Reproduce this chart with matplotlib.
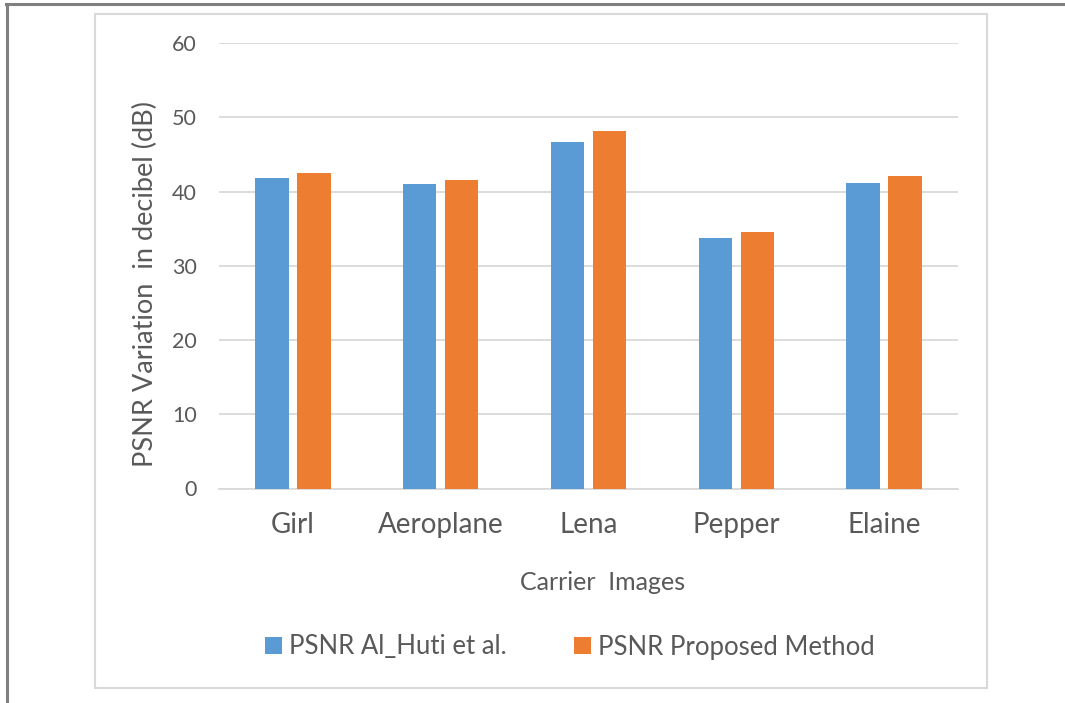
import matplotlib
matplotlib.use("Agg")
import matplotlib.pyplot as plt
import numpy as np
from matplotlib.patches import Rectangle
from matplotlib.lines import Line2D

categories = ["Girl", "Aeroplane", "Lena", "Pepper", "Elaine"]
psnr_alhuti = [41.8, 41.0, 46.6, 33.8, 41.1]
psnr_proposed = [42.5, 41.5, 48.2, 34.5, 42.1]
series_names = ["PSNR Al_Huti et al.", "PSNR Proposed Method"]
yticks = [0, 10, 20, 30, 40, 50, 60]

plt.rcParams['font.family'] = ['Lato', 'DejaVu Sans']

W, H = 1065, 703
fig = plt.figure(figsize=(W / 100, H / 100), dpi=100)

def fx(px):
    return px / W

def fy(py):
    return 1 - py / H

# outer frame (top and left)
fig.add_artist(Line2D([fx(6), 1], [fy(3.5), fy(3.5)], color="#7f7f7f", lw=2.2, transform=fig.transFigure))
fig.add_artist(Line2D([fx(6.5), fx(6.5)], [fy(3.5), 0], color="#7f7f7f", lw=2.2, transform=fig.transFigure))
# inner chart border
fig.add_artist(Rectangle((fx(95), fy(688)), fx(987) - fx(95), fy(14) - fy(688),
                         fill=False, edgecolor="#d9d9d9", lw=1.5, transform=fig.transFigure))

left, right, top, bottom = 219, 958, 43, 488.5
ax = fig.add_axes([fx(left), fy(bottom), fx(right) - fx(left), fy(top) - fy(bottom)])

x = np.arange(len(categories))
bw = 0.225
off = 0.142
blue = "#5b9bd5"
orange = "#ed7d31"
ax.bar(x - off, psnr_alhuti, width=bw, color=blue, label=series_names[0], zorder=3)
ax.bar(x + off, psnr_proposed, width=bw, color=orange, label=series_names[1], zorder=3)

ax.set_xlim(-0.5, len(categories) - 0.5)
ax.set_ylim(0, 60)
ax.set_yticks(yticks)
ax.yaxis.grid(True, color="#d9d9d9", lw=1.3, zorder=0)
for s in ["top", "right", "left"]:
    ax.spines[s].set_visible(False)
ax.spines["bottom"].set_color("#d9d9d9")
ax.spines["bottom"].set_linewidth(1.3)
ax.tick_params(axis="both", length=0, colors="#595959")
ax.tick_params(axis="y", labelsize=15.5, pad=16)
ax.set_xticks(x)
ax.set_xticklabels(categories, fontsize=20, color="#595959")
ax.tick_params(axis="x", pad=17)

fig.text(fx(145), fy(284), "PSNR Variation  in decibel (dB)", rotation=90, ha="center", va="center",
         fontsize=19.5, color="#595959")
fig.text(fx(603), fy(582), "Carrier  Images", ha="center", va="center", fontsize=18, color="#595959")

leg = ax.legend(loc="center", bbox_to_anchor=(fx(570), fy(647)), bbox_transform=fig.transFigure,
                ncol=2, frameon=False, fontsize=18.5, handlelength=0.65, handleheight=0.65,
                handletextpad=0.3, columnspacing=2.6, labelcolor="#595959")

fig.savefig("out.png", dpi=100, facecolor="white")
